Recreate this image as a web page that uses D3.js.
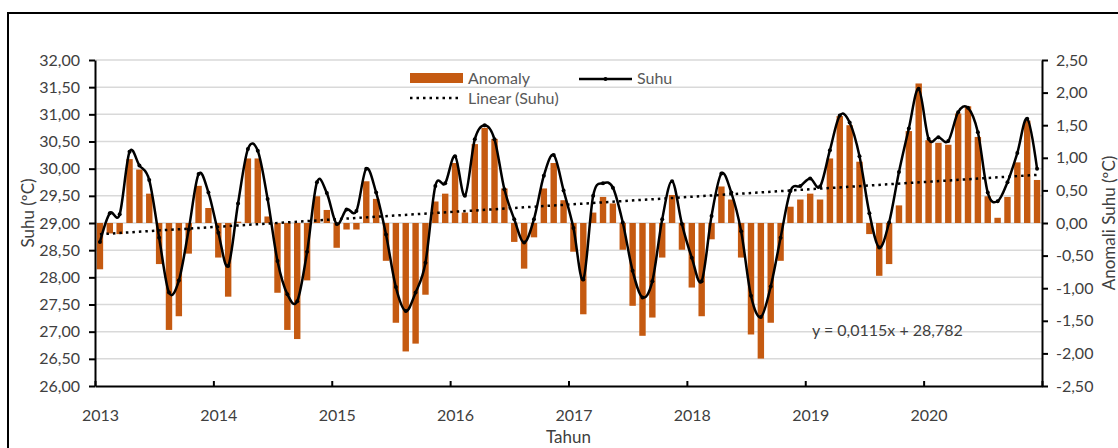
<!DOCTYPE html>
<html>
<head>
<meta charset="utf-8">
<script src="https://cdn.jsdelivr.net/npm/d3@7"></script>
<style>
  body { margin: 0; background: #fff; }
  svg { display: block; font-family: Lato, "Open Sans", sans-serif; }
</style>
</head>
<body>
<div id="chart-area"></div>
<script>
// monthly values Jan 2013 .. Dec 2020
let suhu = [
  28.65, 29.18, 29.16, 30.31, 30.06, 29.79, 28.73, 27.72, 27.94, 28.88, 29.90, 29.56,
  28.82, 28.21, 29.36, 30.36, 30.33, 29.44, 28.30, 27.69, 27.56, 28.47, 29.75, 29.55,
  28.98, 29.25, 29.22, 30.00, 29.56, 28.79, 27.82, 27.38, 27.72, 28.27, 29.68, 29.73,
  30.23, 29.50, 30.54, 30.80, 30.54, 29.62, 29.07, 28.64, 29.07, 29.87, 30.25, 29.60,
  28.91, 27.96, 29.50, 29.73, 29.65, 29.01, 28.12, 27.63, 27.93, 29.07, 29.77, 28.98,
  28.36, 27.93, 29.13, 29.91, 29.56, 28.85, 27.66, 27.27, 27.83, 28.73, 29.59, 29.68,
  29.82, 29.67, 30.34, 30.98, 30.85, 30.23, 29.18, 28.55, 29.01, 29.94, 30.74, 31.47,
  30.55, 30.58, 30.51, 31.04, 31.12, 30.67, 29.56, 29.40, 29.75, 30.29, 30.92, 30.00
];
let anomaly = [
  -0.71, -0.16, -0.17, 0.98, 0.82, 0.45, -0.63, -1.64, -1.43, -0.47, 0.57, 0.23,
  -0.53, -1.13, 0.02, 0.99, 0.99, 0.10, -1.07, -1.64, -1.78, -0.88, 0.41, 0.20,
  -0.38, -0.10, -0.10, 0.64, 0.37, -0.58, -1.53, -1.97, -1.85, -1.10, 0.33, 0.45,
  0.92, 0.16, 1.21, 1.46, 1.29, 0.53, -0.29, -0.70, -0.22, 0.53, 0.92, 0.35,
  -0.44, -1.40, 0.16, 0.40, 0.30, -0.41, -1.27, -1.73, -1.45, -0.53, 0.43, -0.41,
  -0.99, -1.43, -0.25, 0.56, 0.36, -0.53, -1.71, -2.08, -1.53, -0.58, 0.25, 0.36,
  0.45, 0.36, 0.99, 1.64, 1.50, 0.94, -0.17, -0.81, -0.63, 0.27, 1.41, 2.14,
  1.27, 1.23, 1.20, 1.68, 1.79, 1.32, 0.41, 0.08, 0.40, 0.93, 1.57, 0.66
];
let years = ["2013", "2014", "2015", "2016", "2017", "2018", "2019", "2020"];
let leftTicks = [26, 26.5, 27, 27.5, 28, 28.5, 29, 29.5, 30, 30.5, 31, 31.5, 32];
let rightTicks = [-2.5, -2, -1.5, -1, -0.5, 0, 0.5, 1, 1.5, 2, 2.5];
let trendSlope = 0.0115, trendIntercept = 28.782;

let W = 1118, H = 448;
let L = 95, R = 1042, T = 60, B = 386;
let barColor = "#C55A11";
let textColor = "#404040";

let loc = d3.formatLocale({decimal: ",", thousands: ".", grouping: [3], currency: ["", ""], minus: "-"});
let fmt = loc.format(".2f");

let svg = d3.select("#chart-area").append("svg")
  .attr("width", W)
  .attr("height", H);

// frame
svg.append("path")
  .attr("d", `M8,${H + 5} V13 H${W + 5}`)
  .attr("fill", "none").attr("stroke", "#000").attr("stroke-width", 2);

let months = d3.range(suhu.length);
let x = d3.scaleBand().domain(months).range([L, R]).paddingInner(0.35).paddingOuter(0.175);
let cx = (i) => x(i) + x.bandwidth() / 2;
let xYear = d3.scaleLinear().domain([2013, 2021]).range([L, R]);
let yL = d3.scaleLinear().domain([26, 32]).range([B, T]);
let yR = d3.scaleLinear().domain([-2.5, 2.5]).range([B, T]);

// gridlines
svg.append("g").selectAll("line").data(leftTicks.slice(1)).enter()
  .append("line")
  .attr("x1", L).attr("x2", R)
  .attr("y1", (d) => yL(d)).attr("y2", (d) => yL(d))
  .attr("stroke", "#d9d9d9").attr("stroke-width", 1.5);

// anomaly bars
svg.append("g").selectAll("rect").data(anomaly).enter()
  .append("rect")
  .attr("x", (d, i) => x(i))
  .attr("width", x.bandwidth())
  .attr("y", (d) => yR(Math.max(0, d)))
  .attr("height", (d) => Math.abs(yR(d) - yR(0)))
  .attr("fill", barColor);

// linear trend of suhu
svg.append("line")
  .attr("x1", cx(0)).attr("y1", yL(trendIntercept + trendSlope * 1))
  .attr("x2", cx(months.length - 1)).attr("y2", yL(trendIntercept + trendSlope * months.length))
  .attr("stroke", "#000").attr("stroke-width", 2.5)
  .attr("stroke-dasharray", "2.5,4");

// suhu line
let line = d3.line()
  .x((d, i) => cx(i))
  .y((d) => yL(d))
  .curve(d3.curveCatmullRom.alpha(0));
svg.append("path").datum(suhu)
  .attr("d", line)
  .attr("fill", "none").attr("stroke", "#000").attr("stroke-width", 2.5);
svg.append("g").selectAll("circle").data(suhu).enter()
  .append("circle")
  .attr("cx", (d, i) => cx(i)).attr("cy", (d) => yL(d))
  .attr("r", 2).attr("fill", "#000");

// axes
let leftAxis = d3.axisLeft(yL).tickValues(leftTicks).tickFormat(fmt).tickSize(6).tickPadding(9).tickSizeOuter(0);
let gL = svg.append("g").attr("transform", `translate(${L},0)`).call(leftAxis);

let rightAxis = d3.axisRight(yR).tickValues(rightTicks).tickFormat(fmt).tickSize(6).tickPadding(8).tickSizeOuter(0);
let gR = svg.append("g").attr("transform", `translate(${R},0)`).call(rightAxis);

let bottomAxis = d3.axisBottom(xYear).tickValues(d3.range(2013, 2022)).tickSize(-5).tickSizeOuter(0)
  .tickFormat((d) => years[d - 2013] || "");
let gB = svg.append("g").attr("transform", `translate(0,${B})`).call(bottomAxis);
gB.selectAll("text").attr("dx", x.step() / 2).attr("y", 24);

[gL, gR, gB].forEach((g) => {
  g.selectAll("path, line").attr("stroke", "#000").attr("stroke-width", 2);
  g.selectAll("text").attr("fill", textColor).attr("font-size", 16).attr("font-family", "Lato, sans-serif");
});

// axis titles
svg.append("text")
  .attr("transform", `translate(28,${(T + B) / 2 - 10}) rotate(-90)`)
  .attr("text-anchor", "middle").attr("dy", "0.35em")
  .attr("font-size", 17).attr("fill", textColor)
  .text("Suhu (ºC)");
svg.append("text")
  .attr("transform", `translate(1109,${(T + B) / 2}) rotate(-90)`)
  .attr("text-anchor", "middle").attr("dy", "0.35em")
  .attr("font-size", 17).attr("fill", textColor)
  .text("Anomali Suhu (ºC)");
svg.append("text")
  .attr("x", (L + R) / 2).attr("y", 443)
  .attr("text-anchor", "middle")
  .attr("font-size", 17).attr("fill", textColor)
  .text("Tahun");

// trend equation
svg.append("text")
  .attr("x", 812).attr("y", 336)
  .attr("font-size", 16).attr("fill", textColor)
  .text("y = 0,0115x + 28,782");

// legend
let lg = svg.append("g").attr("font-size", 16).attr("fill", "#595959");
lg.append("rect").attr("x", 410).attr("y", 73).attr("width", 53).attr("height", 10).attr("fill", barColor);
lg.append("text").attr("x", 468).attr("y", 84).text("Anomaly");
lg.append("line").attr("x1", 579).attr("x2", 632).attr("y1", 79).attr("y2", 79)
  .attr("stroke", "#000").attr("stroke-width", 2.5);
lg.append("circle").attr("cx", 605.5).attr("cy", 79).attr("r", 2).attr("fill", "#000");
lg.append("text").attr("x", 637).attr("y", 84).text("Suhu");
lg.append("line").attr("x1", 410).attr("x2", 460).attr("y1", 98).attr("y2", 98)
  .attr("stroke", "#000").attr("stroke-width", 2.5).attr("stroke-dasharray", "2.5,4");
lg.append("text").attr("x", 468).attr("y", 104).text("Linear (Suhu)");
</script>
</body>
</html>
